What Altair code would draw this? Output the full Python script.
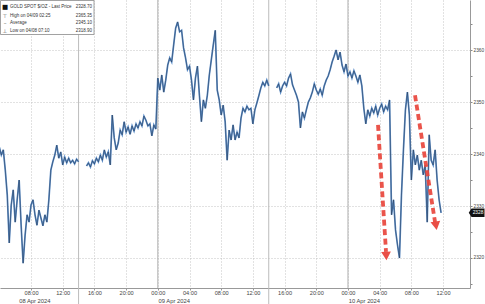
import altair as alt
import pandas as pd

# ---------------- data (hours counted from 08 Apr 2024 00:00) ----------------
STEP_H = 0.25
seg1_start_h = 4.0
seg1_price = [2341.3, 2339.8, 2340.8, 2336.9, 2332.1, 2322.9, 2330.2, 2333.1, 2326.9, 2331.2,
              2335.0, 2326.3, 2319.0, 2324.4, 2328.3, 2326.9, 2330.2, 2331.2, 2328.3, 2326.3,
              2329.2, 2327.7, 2326.2, 2328.3, 2326.9, 2331.2, 2336.9, 2338.5, 2339.8, 2341.7,
              2339.2, 2340.4, 2337.9, 2339.4, 2338.3, 2339.2, 2338.3, 2338.8, 2338.1, 2339.0,
              2338.5]
seg2_start_h = 15.0
seg2_price = [2337.7, 2338.3, 2337.5, 2338.7, 2338.1, 2339.2, 2338.5, 2339.8, 2338.8, 2340.8,
              2339.4, 2340.4, 2337.9, 2347.5, 2343.1, 2340.8, 2342.1, 2344.6, 2343.7, 2346.2,
              2344.2, 2345.2, 2343.8, 2345.4, 2344.4, 2345.8, 2345.0, 2346.2, 2345.4, 2347.3,
              2346.5, 2345.4, 2345.8, 2343.5, 2345.6, 2344.8, 2354.6, 2352.3, 2355.2, 2351.9,
              2354.2, 2357.1, 2358.5, 2357.7, 2361.0, 2364.2, 2365.4, 2363.5, 2363.8, 2360.4,
              2358.5, 2356.2, 2356.9, 2354.2, 2350.4, 2354.6, 2356.9, 2351.3, 2346.2, 2350.4,
              2348.8, 2351.3, 2355.2, 2358.1, 2361.0, 2363.8, 2352.3, 2350.4, 2347.5, 2349.4,
              2346.2, 2338.8, 2344.6, 2342.7, 2345.6, 2342.7, 2344.2, 2343.1, 2346.9, 2348.8,
              2348.1, 2349.2, 2348.5, 2348.8, 2345.8, 2348.5, 2349.8, 2351.2, 2352.7, 2353.8,
              2353.1, 2354.2, 2353.1]
seg3_start_h = 39.0
seg3_price = [2352.7, 2353.5, 2351.9, 2353.1, 2353.8, 2353.1, 2354.6, 2355.4, 2353.3, 2352.3,
              2351.3, 2350.0, 2345.0, 2348.1, 2346.9, 2348.5, 2350.0, 2350.8, 2351.9, 2353.5,
              2352.3, 2351.5, 2352.5, 2351.3, 2353.1, 2354.2, 2355.0, 2356.2, 2357.7, 2358.8,
              2360.0, 2358.1, 2359.6, 2357.1, 2355.8, 2357.3, 2355.0, 2355.8, 2354.6, 2356.0,
              2355.0, 2353.8, 2355.2, 2353.1, 2348.8, 2345.8, 2348.5, 2347.3, 2348.8, 2347.9,
              2349.2, 2347.5, 2348.8, 2349.6, 2348.1, 2349.2, 2348.5, 2350.4, 2328.3, 2331.2,
              2325.4, 2322.5, 2320.0, 2332.1, 2340.8, 2348.5, 2351.9, 2347.5, 2335.0, 2340.8,
              2337.9, 2339.8, 2336.9, 2338.8, 2336.0, 2337.9, 2326.9, 2343.7, 2338.8, 2337.9,
              2340.8, 2335.0, 2331.2, 2328.7]

x_domain = [4.083, 63.40]
y_domain = [2314.23, 2369.62]
tick_hours = [8, 12, 16, 20, 24, 28, 32, 36, 40, 44, 48, 52, 56, 60]
y_ticks = [2315, 2320, 2325, 2330, 2335, 2340, 2345, 2350, 2355, 2360, 2365]
session_break_h = [14, 38]
day_start_h = [24, 48]
day_labels = ["08 Apr 2024", "09 Apr 2024", "10 Apr 2024"]
day_label_h = [6.5, 24.1, 48.1]

legend_icons = ["\u25A0", "\u22A4", "\u2013", "\u22A5"]
legend_names = ["GOLD SPOT $/OZ - Last Price", "High on 04/09 02:25", "Average", "Low on 04/08 07:10"]
legend_values = ["2328.70", "2365.35", "2345.10", "2318.90"]
last_price = 2328.70

arrow_id = [1, 1, 2, 2]
arrow_h = [51.79, 52.80, 56.46, 58.99]
arrow_p = [2345.6, 2321.2, 2351.3, 2326.9]
head_h = [52.83, 59.11]
head_p = [2320.4, 2326.2]
head_angle = [356.7, 350.9]

# ---------------- tables ----------------
rows = []
for sid, (start, vals) in enumerate([(seg1_start_h, seg1_price), (seg2_start_h, seg2_price),
                                     (seg3_start_h, seg3_price)]):
    for i, v in enumerate(vals):
        rows.append({"h": start + i * STEP_H, "p": v, "seg": sid})
price_df = pd.DataFrame(rows)

FONT = "Liberation Sans"
GRID = "#bdbdbd"

xenc = alt.X("h:Q", title=None,
             scale=alt.Scale(domain=x_domain, nice=False, zero=False),
             axis=alt.Axis(values=tick_hours, grid=True, gridDash=[1, 2], gridColor=GRID,
                           gridWidth=0.9, tickSize=2, tickColor="#999", domainColor="#999",
                           labelPadding=0.5, labelFontSize=5.6, labelFont=FONT, labelColor="#444",
                           labelExpr="(datum.value % 24 < 10 ? '0' : '') + (datum.value % 24) + ':00'"))
yenc = alt.Y("p:Q", title=None,
             scale=alt.Scale(domain=y_domain, nice=False, zero=False),
             axis=alt.Axis(orient="right", values=y_ticks, grid=True, gridDash=[1, 2],
                           gridColor=GRID, gridWidth=0.9,
                           gridOpacity={"condition": {"test": "datum.value % 10 === 0", "value": 1}, "value": 0},
                           tickSize=2, tickColor="#888", domainColor="#999", labelPadding=1,
                           labelFontSize=4.8, labelFont=FONT, labelColor="#444",
                           labelExpr="datum.value % 10 === 0 ? datum.value : ''"))

base_line = alt.Chart(price_df).mark_line(color="#5a8cc8", strokeWidth=1.7).encode(
    x=xenc, y=yenc, detail="seg:N")
dark_line = alt.Chart(price_df).mark_line(color="#1c2634", strokeWidth=0.6, opacity=0.7).encode(
    x=xenc, y=yenc, detail="seg:N")

sess = alt.Chart(pd.DataFrame({"h": session_break_h})).mark_rule(color="#bcbcbc", strokeWidth=1).encode(
    x=xenc, y=alt.value(0), y2=alt.value(304))
days = alt.Chart(pd.DataFrame({"h": day_start_h})).mark_rule(color="#b0b0b0", strokeWidth=1).encode(
    x=xenc, y=alt.value(0), y2=alt.value(288))

day_text = alt.Chart(pd.DataFrame({"h": day_label_h, "t": day_labels})).mark_text(
    align="left", baseline="middle", fontSize=5.8, font=FONT, color="#444").encode(
    x=xenc, y=alt.value(300.5), text="t:N")

arrows = alt.Chart(pd.DataFrame({"a": arrow_id, "h": arrow_h, "p": arrow_p})).mark_line(
    color="#e8453c", strokeWidth=3.8, strokeDash=[6, 3.5], opacity=0.92).encode(
    x=xenc, y=yenc, detail="a:N")
heads = alt.Chart(pd.DataFrame({"h": head_h, "p": head_p, "ang": head_angle})).mark_point(
    shape="triangle-down", filled=True, color="#e8453c", size=95, opacity=0.95).encode(
    x=xenc, y=yenc, angle=alt.Angle("ang:Q", scale=None))

badge = alt.Chart(pd.DataFrame({"p": [last_price]})).mark_point(
    shape="M -1.25 0 L -0.85 -0.6 L 1 -0.6 L 1 0.6 L -0.85 0.6 Z", filled=True,
    color="#111111", size=196, opacity=1).encode(x=alt.value(477.5), y=yenc)
badge_text = alt.Chart(pd.DataFrame({"p": [last_price], "t": [str(int(last_price))]})).mark_text(
    align="center", baseline="middle", fontSize=4.8, font=FONT, color="white").encode(
    x=alt.value(478), y=yenc, text="t:N")

legend_box = alt.Chart(pd.DataFrame({"d": [0]})).mark_rect(
    fill="white", stroke="#8a8a8a", strokeWidth=0.8).encode(
    x=alt.value(0.5), x2=alt.value(94), y=alt.value(0.5), y2=alt.value(34.5))

legend_layers = []
row_y = [7.2, 15.5, 23.3, 31.0]
for i in range(4):
    one = pd.DataFrame({"icon": [legend_icons[i]], "name": [legend_names[i]], "val": [legend_values[i]]})
    legend_layers.append(alt.Chart(one).mark_text(
        align="center", baseline="middle", fontSize=6.5 if i == 0 else 5.5, font="DejaVu Sans",
        color="#111" if i == 0 else "#555").encode(x=alt.value(5), y=alt.value(row_y[i]), text="icon:N"))
    legend_layers.append(alt.Chart(one).mark_text(
        align="left", baseline="middle", fontSize=4.5, font=FONT, color="#333").encode(
        x=alt.value(10), y=alt.value(row_y[i]), text="name:N"))
    legend_layers.append(alt.Chart(one).mark_text(
        align="right", baseline="middle", fontSize=4.5, font=FONT, color="#333").encode(
        x=alt.value(92), y=alt.value(row_y[i]), text="val:N"))

chart = alt.layer(sess, days, base_line, dark_line, arrows, heads, day_text, badge, badge_text,
                  legend_box, *legend_layers).properties(
    width=470, height=288,
    padding={"left": 0, "top": 0, "right": 15, "bottom": 16},
    autosize=alt.AutoSizeParams(type="none"),
    background="white",
).configure_view(stroke=None)

chart.save("out.html", embed_options={"renderer": "svg", "actions": False})
